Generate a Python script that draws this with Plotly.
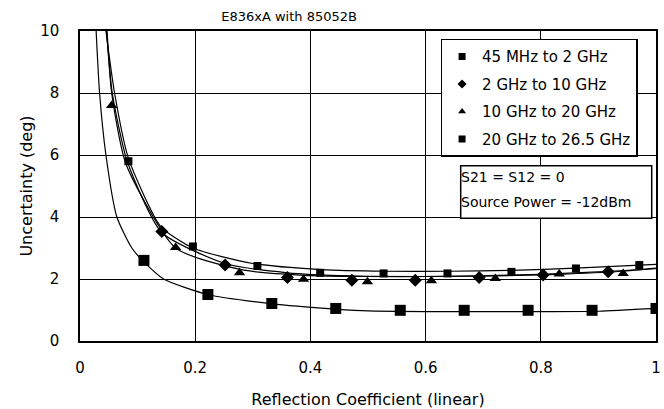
import plotly.graph_objects as go

# ---- data ----
series_names = ["45 MHz to 2 GHz", "2 GHz to 10 GHz", "10 GHz to 20 GHz", "20 GHz to 26.5 GHz"]

# marker points
s1_x = [0.111, 0.222, 0.333, 0.444, 0.556, 0.667, 0.778, 0.889, 1.0]
s1_y = [2.60, 1.50, 1.21, 1.05, 0.99, 0.99, 0.99, 0.99, 1.05]

s2_x = [0.142, 0.252, 0.360, 0.472, 0.582, 0.693, 0.804, 0.917]
s2_y = [3.53, 2.45, 2.05, 1.96, 1.96, 2.05, 2.13, 2.23]

s3_x = [0.055, 0.166, 0.277, 0.388, 0.499, 0.610, 0.721, 0.832, 0.943]
s3_y = [7.60, 3.02, 2.20, 1.99, 1.91, 1.94, 2.02, 2.16, 2.18]

s4_x = [0.084, 0.196, 0.308, 0.417, 0.527, 0.638, 0.749, 0.861, 0.971]
s4_y = [5.80, 3.05, 2.42, 2.20, 2.18, 2.18, 2.23, 2.34, 2.45]

# trend curves
c1_x = [0.028, 0.034, 0.045, 0.064, 0.09, 0.111, 0.145, 0.222, 0.333, 0.444, 0.5, 0.6, 0.7, 0.8, 0.9, 1.0]
c1_y = [10.0, 8.0, 6.0, 4.0, 3.0, 2.55, 2.0, 1.5, 1.2, 1.03, 0.97, 0.95, 0.95, 0.95, 0.96, 1.05]

c2_x = [0.046, 0.056, 0.082, 0.142, 0.252, 0.36, 0.47, 0.58, 0.69, 0.8, 0.92, 1.0]
c2_y = [10.0, 8.0, 5.8, 3.5, 2.5, 2.2, 2.1, 2.08, 2.1, 2.15, 2.25, 2.33]

c3_x = [0.047, 0.055, 0.08, 0.166, 0.28, 0.39, 0.5, 0.61, 0.72, 0.83, 0.94, 1.0]
c3_y = [10.0, 8.0, 5.7, 3.0, 2.3, 2.12, 2.08, 2.08, 2.1, 2.15, 2.25, 2.35]

c4_x = [0.045, 0.06, 0.084, 0.14, 0.196, 0.3, 0.42, 0.53, 0.64, 0.75, 0.86, 1.0]
c4_y = [10.0, 8.0, 5.9, 3.7, 3.0, 2.5, 2.3, 2.25, 2.25, 2.28, 2.35, 2.47]

x_ticks = [0, 0.2, 0.4, 0.6, 0.8, 1]
x_tick_text = ["0", "0.2", "0.4", "0.6", "0.8", "1"]
y_ticks = [0, 2, 4, 6, 8, 10]

FONT = "DejaVu Sans"

fig = go.Figure()

for cx, cy in [(c1_x, c1_y), (c2_x, c2_y), (c3_x, c3_y), (c4_x, c4_y)]:
    fig.add_trace(go.Scatter(x=cx, y=cy, mode="lines", line=dict(color="black", width=1.2, shape="spline", smoothing=0.6),
                             showlegend=False, hoverinfo="skip"))

marker_specs = [
    (s1_x, s1_y, "square", 11, 7),
    (s2_x, s2_y, "diamond", 10, 7),
    (s3_x, s3_y, "triangle-up", 10, 7),
    (s4_x, s4_y, "square", 8, 7),
]
for i, (mx, my, sym, sz, lsz) in enumerate(marker_specs):
    fig.add_trace(go.Scatter(x=mx, y=my, mode="markers", showlegend=False,
                             marker=dict(symbol=sym, size=sz, color="black", line=dict(width=0))))
    # legend entry (no data, smaller symbol as in the reference legend)
    fig.add_trace(go.Scatter(x=[None], y=[None], mode="markers", name=series_names[i], legendgroup="g%d" % i,
                             marker=dict(symbol=sym, size=lsz, color="black", line=dict(width=0))))

fig.update_layout(
    width=664, height=409,
    margin=dict(l=80, r=8, t=31, b=68),
    paper_bgcolor="white", plot_bgcolor="white",
    font=dict(family=FONT, color="black", size=15),
    title=dict(text="E836xA with 85052B", x=0.363, xref="paper", xanchor="center",
               y=1 - 16 / 409, yref="container", yanchor="middle", font=dict(size=13, family=FONT)),
    showlegend=True,
    legend=dict(x=0.626, y=0.975, xanchor="left", yanchor="top", bgcolor="white",
                bordercolor="black", borderwidth=1.5, font=dict(size=15, family=FONT),
                tracegroupgap=5, itemsizing="trace"),
    xaxis=dict(range=[0, 1], tickvals=x_ticks, ticktext=x_tick_text, showgrid=True, gridcolor="black", gridwidth=1.3,
               showline=True, linecolor="black", linewidth=1.5, mirror=True, ticks="", zeroline=False,
               ticklabelstandoff=12, tickfont=dict(size=15), automargin=False,
               title=dict(text="Reflection Coefficient (linear)", font=dict(size=16), standoff=20)),
    yaxis=dict(range=[0, 10], tickvals=y_ticks, showgrid=True, gridcolor="black", gridwidth=1.3,
               showline=True, linecolor="black", linewidth=1.5, mirror=True, ticks="", zeroline=False,
               ticklabelstandoff=16, tickfont=dict(size=15), automargin=False,
               title=dict(text="Uncertainty (deg)", font=dict(size=16), standoff=4)),
)

# info box
fig.add_shape(type="rect", xref="paper", yref="paper",
              x0=(460.7 - 80) / 576, x1=(651.7 - 80) / 576,
              y0=(341 - 218.3) / 310, y1=(341 - 165.7) / 310,
              line=dict(color="black", width=1.5), fillcolor="white", layer="above")
fig.add_annotation(text="S21 = S12 = 0", xref="paper", yref="paper", x=(459 - 80) / 576, y=(341 - 177) / 310,
                   xanchor="left", yanchor="middle", showarrow=False, font=dict(size=14, family=FONT))
fig.add_annotation(text="Source Power = -12dBm", xref="paper", yref="paper", x=(459 - 80) / 576, y=(341 - 202) / 310,
                   xanchor="left", yanchor="middle", showarrow=False, font=dict(size=14, family=FONT))

# partially visible heading at top-left
fig.add_annotation(text="Phase", xref="paper", yref="paper", x=(10 - 80) / 576, y=(341 + 4) / 310,
                   xanchor="left", yanchor="bottom", showarrow=False, font=dict(size=16, family=FONT))

fig.write_html("out.html", config={"displayModeBar": False},
               post_script="document.body.style.margin='0';document.body.style.padding='0';")
